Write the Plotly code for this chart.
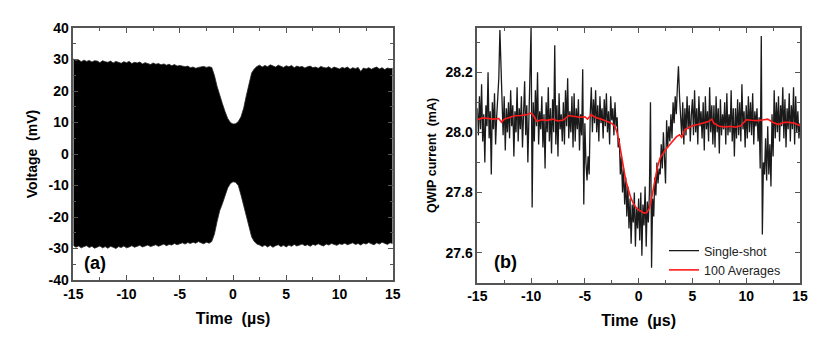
import numpy as np
import plotly.graph_objects as go

# ---- panel (a): envelope of the oscillating voltage signal (mV), sampled every 0.25 us
env_upper = [
    30.2, 29.6, 29.9, 29.3, 29.8, 29.4, 29.7, 29.2, 29.6, 29.5, 29.0, 29.6,
    29.3, 29.1, 29.5, 28.9, 29.4, 29.2, 28.8, 29.3, 29.0, 29.4, 28.7, 29.1,
    28.9, 29.2, 28.6, 29.0, 28.8, 28.4, 28.9, 28.5, 28.7, 28.3, 28.6, 28.2,
    28.5, 28.0, 28.4, 27.9, 28.1, 27.8, 27.7, 27.9, 27.4, 27.6, 27.2, 27.5,
    27.6, 27.8, 27.5, 27.7,
    27.5, 25.0, 21.5, 18.5, 16.0, 13.5, 11.3, 10.0, 9.5, 9.6, 10.3, 11.8,
    14.5, 18.5, 22.5, 25.7, 27.0, 27.8,
    28.2, 27.6, 28.1, 27.7, 28.3, 27.9, 27.6, 28.2, 27.8, 27.5,
    28.0, 27.7, 28.1, 27.4, 27.9, 27.6, 27.8, 27.3, 27.7, 27.9,
    27.4, 27.6, 27.2, 27.8, 27.5, 27.3, 27.7, 27.1, 27.6, 27.4,
    27.0, 27.5, 27.2, 27.6, 26.9, 27.4, 27.1, 27.5, 26.2, 27.3,
    27.0, 27.4, 26.9, 27.3, 27.6, 27.0, 27.4, 26.8, 27.3, 27.1,
    27.2,
]
env_lower = [
    -29.0, -29.6, -29.2, -29.8, -29.4, -29.1, -29.7, -29.3, -29.9, -29.5, -29.2, -29.8,
    -29.4, -29.9, -29.3, -29.6, -30.0, -29.4, -29.7, -29.2, -29.8, -29.5, -29.1, -29.6,
    -29.3, -29.0, -29.5, -29.2, -28.9, -29.4, -29.0, -28.8, -29.3, -28.9, -28.6, -29.1,
    -28.7, -28.9, -28.4, -28.8, -28.5, -28.2, -28.6, -28.1, -28.4, -28.0, -28.3, -27.8,
    -28.2, -28.5, -28.0, -28.3,
    -27.8, -25.5, -21.5, -18.0, -15.8, -13.0, -10.8, -9.4, -8.8, -9.0, -10.0, -13.0,
    -16.5, -20.0, -23.0, -26.3, -27.8, -28.6,
    -28.9, -29.4, -28.9, -29.5, -29.0, -29.6, -29.1, -28.8, -29.4, -29.0,
    -29.5, -28.9, -29.3, -28.7, -29.2, -29.0, -28.6, -29.1, -28.8, -29.3,
    -28.7, -29.0, -28.5, -28.9, -29.2, -28.6, -28.9, -28.4, -28.8, -29.0,
    -28.5, -28.7, -28.3, -28.8, -28.5, -28.2, -28.7, -28.4, -28.9, -28.3,
    -28.6, -28.1, -28.5, -28.8, -28.2, -28.6, -28.0, -28.4, -28.7, -28.2,
    -28.4,
]
env_t = np.linspace(-15, 15, len(env_upper))

# ---- panel (b): QWIP current (mA), single shot sampled every 0.1 us
shot_i = [
    28.08, 27.99, 28.12, 28.01, 28.16, 27.97, 28.06, 27.90, 28.09, 28.02,  # -15
    28.20, 27.98, 28.07, 27.86, 28.10, 28.01, 28.13, 27.96, 28.05, 28.11,  # -14
    28.18, 28.34, 28.22, 28.06, 27.99, 28.12, 27.94, 28.08, 28.00, 28.10,  # -13
    27.98, 28.14, 28.02, 28.09, 27.92, 28.07, 28.00, 28.15, 27.97, 28.08,  # -12
    28.01, 28.12, 27.95, 28.06, 28.17, 27.99, 28.09, 27.90, 28.05, 28.18,  # -11
    28.35, 27.75, 28.10, 27.97, 28.14, 28.02, 28.20, 27.96, 28.07, 28.01,  # -10
    28.12, 27.95, 28.06, 27.88, 28.10, 28.00, 28.15, 27.97, 28.08, 27.93,  # -9
    28.11, 28.00, 28.29, 27.96, 28.09, 27.92, 28.13, 28.01, 28.06, 27.97,  # -8
    28.10, 27.96, 28.14, 28.02, 28.18, 27.98, 28.07, 28.00, 28.12, 27.95,  # -7
    28.13, 27.97, 28.08, 28.01, 28.11, 27.94, 28.06, 27.99, 28.21, 27.76,  # -6
    28.03, 27.90, 27.84, 27.92, 27.86, 28.06, 28.15, 28.00, 28.11, 28.03,  # -5
    28.14, 28.00, 28.09, 27.97, 28.12, 28.03, 28.08, 27.98, 28.11, 28.02,  # -4
    28.13, 28.00, 28.07, 27.96, 28.12, 28.04, 28.08, 27.99, 28.10, 28.02,  # -3
    28.05, 27.95, 27.98, 27.86, 27.92, 27.80, 27.88, 27.76, 27.85, 27.72,  # -2
    27.82, 27.68, 27.78, 27.63, 27.76, 27.70, 27.80, 27.62, 27.75, 27.68,  # -1
    27.78, 27.64, 27.80, 27.59, 27.76, 27.69, 27.82, 27.62, 27.77, 27.70,  # 0
    27.80, 28.10, 27.55, 27.78, 27.72, 27.85, 27.79, 27.90, 27.83, 27.88,  # 1
    27.86, 27.96, 27.88, 28.00, 27.92, 27.83, 28.04, 27.95, 28.02, 27.97,  # 2
    28.06, 27.98, 28.10, 28.03, 28.12, 28.06, 28.15, 28.22, 28.12, 28.06,  # 3
    27.99, 28.10, 27.96, 28.08, 27.99, 28.12, 28.01, 28.09, 27.97, 28.06,  # 4
    28.11, 27.99, 28.14, 28.00, 28.08, 27.96, 28.12, 28.02, 28.07, 27.98,  # 5
    28.10, 27.94, 28.12, 28.01, 28.07, 27.97, 28.15, 28.00, 28.09, 27.96,  # 6
    28.09, 27.95, 28.12, 28.00, 28.08, 27.93, 28.11, 27.99, 28.06, 28.01,  # 7
    28.10, 27.96, 28.13, 27.99, 28.06, 28.00, 28.14, 27.97, 28.08, 27.92,  # 8
    28.08, 27.98, 28.11, 27.99, 28.10, 27.97, 28.16, 28.01, 28.07, 27.95,  # 9
    28.09, 27.98, 28.12, 28.00, 28.10, 27.99, 28.13, 27.96, 28.07, 28.02,  # 10
    28.08, 27.97, 28.05, 27.88, 28.32, 27.66, 27.90, 27.86, 27.98, 27.84,  # 11
    28.02, 27.86, 27.96, 27.82, 28.06, 27.92, 28.14, 27.98, 28.10, 28.00,  # 12
    28.12, 27.97, 28.09, 28.02, 28.15, 27.98, 28.11, 27.95, 28.08, 28.01,  # 13
    28.13, 27.97, 28.09, 28.01, 28.15, 27.96, 28.12, 28.00, 28.07, 27.98,  # 14
    28.03,
]
shot_t = np.linspace(-15, 15, len(shot_i))

# 100 averages
avg_t = [-15, -14.5, -14, -13.5, -13, -12.75, -12.5, -12, -11.5, -11, -10.5, -10,
         -9.75, -9.5, -9, -8.5, -8, -7.5, -7, -6.5, -6, -5.5, -5, -4.75, -4.4, -4,
         -3.5, -3, -2.5, -2.2, -2, -1.8, -1.6, -1.4, -1.2, -1, -0.75, -0.5, -0.25,
         0, 0.25, 0.5, 0.75, 1, 1.25, 1.5, 1.75, 2, 2.5, 3, 3.5, 3.8, 4, 4.3, 5,
         5.5, 6, 6.5, 6.8, 7, 7.5, 8, 8.5, 9, 9.5, 10, 10.5, 11, 11.5, 12, 12.5,
         13, 13.5, 14, 14.5, 15]
avg_i = [28.042, 28.048, 28.046, 28.044, 28.046, 28.034, 28.044, 28.050, 28.055, 28.056, 28.058, 28.064,
         28.055, 28.037, 28.042, 28.040, 28.044, 28.038, 28.041, 28.056, 28.053, 28.050, 28.052, 28.044, 28.059, 28.049,
         28.044, 28.037, 28.030, 28.020, 27.998, 27.965, 27.920, 27.870, 27.840, 27.815, 27.785, 27.764, 27.750,
         27.742, 27.735, 27.731, 27.733, 27.748, 27.790, 27.842, 27.885, 27.915, 27.942, 27.964, 27.985, 27.992, 27.983, 28.009, 28.022,
         28.026, 28.031, 28.036, 28.044, 28.030, 28.020, 28.018, 28.020, 28.017, 28.022, 28.042, 28.040, 28.039, 28.041, 28.044, 28.033,
         28.026, 28.033, 28.033, 28.030, 28.022]

x_ticks = [-15, -10, -5, 0, 5, 10, 15]
v_ticks = [-40, -30, -20, -10, 0, 10, 20, 30, 40]
i_ticks = [27.6, 27.8, 28.0, 28.2]

FONT = "Liberation Sans, Arial, sans-serif"
AXCOL = "#555555"

fig = go.Figure()

fig.add_trace(go.Scatter(x=env_t, y=env_lower, mode="lines", line=dict(color="#222", width=0.8),
                         showlegend=False, xaxis="x", yaxis="y", hoverinfo="skip"))
fig.add_trace(go.Scatter(x=env_t, y=env_upper, mode="lines", line=dict(color="#222", width=0.8),
                         fill="tonexty", fillcolor="black",
                         showlegend=False, xaxis="x", yaxis="y", hoverinfo="skip"))

fig.add_trace(go.Scatter(x=shot_t, y=shot_i, mode="lines", name="Single-shot",
                         line=dict(color="#1a1a1a", width=1.3), xaxis="x2", yaxis="y2"))
fig.add_trace(go.Scatter(x=avg_t, y=avg_i, mode="lines", name="100 Averages",
                         line=dict(color="#ff1a1a", width=1.6), xaxis="x2", yaxis="y2"))

common = dict(
    showline=True, linecolor=AXCOL, linewidth=1.5, mirror="allticks",
    ticks="inside", ticklen=5, tickcolor=AXCOL, tickwidth=1.2,
    showgrid=False, zeroline=False, automargin=False,
    tickfont=dict(family=FONT, size=14, color="black", weight="bold"),
)

fig.update_layout(
    width=830, height=338,
    margin=dict(l=0, r=0, t=0, b=0),
    paper_bgcolor="white", plot_bgcolor="white",
    font=dict(family=FONT, color="black"),
    xaxis=dict(domain=[73.3 / 830, 392.7 / 830], range=[-15, 15], tickvals=x_ticks,
               ticktext=[str(v) for v in x_ticks],
               minor=dict(ticks="inside", dtick=2.5, ticklen=3, tickcolor=AXCOL),
               title=dict(text="Time  (µs)", font=dict(size=16, weight="bold"), standoff=12),
               anchor="y", **common),
    yaxis=dict(domain=[1 - 280 / 338, 1 - 28 / 338], range=[-40, 40], tickvals=v_ticks,
               ticktext=[str(v) for v in v_ticks],
               minor=dict(ticks="inside", dtick=5, ticklen=3, tickcolor=AXCOL),
               title=dict(text="Voltage  (mV)", font=dict(size=14, weight="bold"), standoff=8),
               anchor="x", **common),
    xaxis2=dict(domain=[477.3 / 830, 800 / 830], range=[-15, 15], tickvals=x_ticks,
                ticktext=[str(v) for v in x_ticks],
                minor=dict(ticks="inside", dtick=2.5, ticklen=3, tickcolor=AXCOL),
                title=dict(text="Time  (µs)", font=dict(size=16, weight="bold"), standoff=12),
                anchor="y2", **common),
    yaxis2=dict(domain=[1 - 282.7 / 338, 1 - 28 / 338], range=[27.50, 28.347], tickvals=i_ticks,
                tickformat=".1f",
                minor=dict(ticks="inside", dtick=0.1, ticklen=3, tickcolor=AXCOL),
                title=dict(text="QWIP current  (mA)", font=dict(size=12.5, weight="bold"), standoff=6),
                anchor="x2", **common),
    legend=dict(x=664 / 830, y=1 - 236 / 338, xanchor="left", yanchor="top",
                traceorder="normal",
                bgcolor="rgba(0,0,0,0)", font=dict(family=FONT, size=12.5, color="#222"),
                tracegroupgap=0, itemwidth=30),
    annotations=[
        dict(text="(a)", x=-12.95, y=-34.6, xref="x", yref="y", showarrow=False,
             font=dict(family=FONT, size=18, weight="bold")),
        dict(text="(b)", x=-12.4, y=27.568, xref="x2", yref="y2", showarrow=False,
             font=dict(family=FONT, size=18, weight="bold")),
    ],
)

# drop the default page margin so the figure sits at the window's corner
fig.write_html("out.html", config={"displayModeBar": False},
               post_script="document.body.style.margin='0px';")
